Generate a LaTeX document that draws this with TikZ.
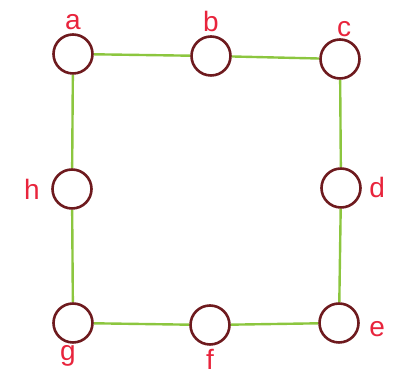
\documentclass[tikz,border=0pt]{standalone}
\usepackage{fontspec}
\setmainfont{Liberation Sans}
\usepackage{xcolor}
\usetikzlibrary{positioning}

\definecolor{ringred}{HTML}{6E1A1E}
\definecolor{edgegreen}{HTML}{8CC63F}
\definecolor{labred}{HTML}{E8243C}

\begin{document}
\begin{tikzpicture}[
  x=1pt, y=1pt,
  vert/.style={circle, draw=ringred, line width=2.6pt, fill=white,
               minimum size=39pt, inner sep=0pt},
  edge/.style={draw=edgegreen, line width=2.4pt},
  lab/.style={font=\fontsize{28}{28}\selectfont, text=labred}
]
\useasboundingbox (0,0) rectangle (394,387);

% Vertices
\node[vert] (a) at (73,333) {};
\node[vert] (b) at (211,331) {};
\node[vert] (c) at (340,328) {};
\node[vert] (d) at (341,199) {};
\node[vert] (e) at (339,64) {};
\node[vert] (f) at (210,62) {};
\node[vert] (g) at (73,64) {};
\node[vert] (h) at (72,198) {};

% Edges
\draw[edge] (a) -- (b) -- (c) -- (d) -- (e) -- (f) -- (g) -- (h) -- (a);

% Labels
\node[lab, above=0pt of a] (la) {a};
\node[lab, above=0pt of b] (lb) {b};
\node[lab, above=-2pt of c, xshift=4pt] (lc) {c};
\node[lab, right=4pt of d] (ld) {d};
\node[lab, right=6pt of e, yshift=-6pt] (le) {e};
\node[lab, below=0pt of f] (lf) {f};
\node[lab, below=-2pt of g, xshift=-5pt] (lg) {g};
\node[lab, left=8pt of h] (lh) {h};
\end{tikzpicture}
\end{document}
